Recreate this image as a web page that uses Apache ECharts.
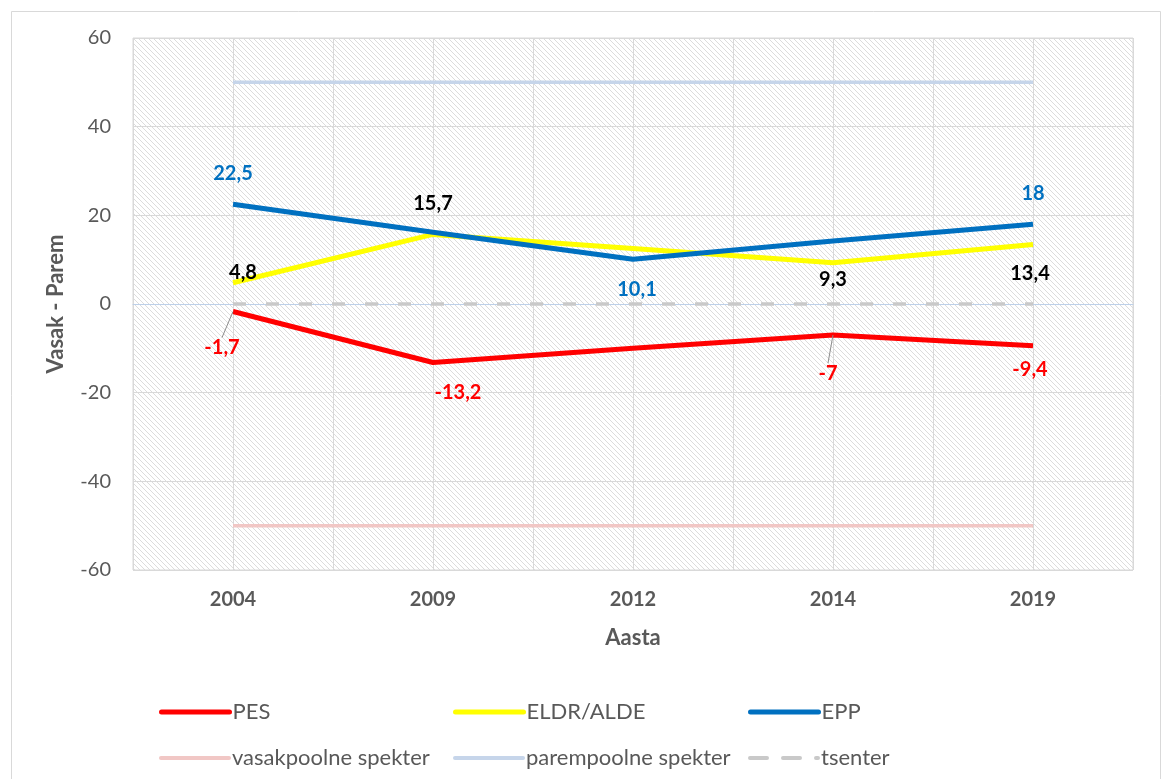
<!DOCTYPE html>
<html>
<head>
<meta charset="utf-8">
<script src="https://cdn.jsdelivr.net/npm/echarts@6/dist/echarts.min.js"></script>
<style>
  html, body { margin: 0; padding: 0; background: #fff; }
  #chart { width: 1165px; height: 779px; }
</style>
</head>
<body>
<div id="chart"></div>
<script>
// andmed
const years = ['2004', '2009', '2012', '2014', '2019'];
const yTicks = [-60, -40, -20, 0, 20, 40, 60];
const pes = [-1.7, -13.2, -10, -7, -9.4];
const eldr = [4.8, 15.7, 12.5, 9.3, 13.4];
const epp = [22.5, 16.2, 10.1, 14.2, 18];
const vasak = [-50, -50, -50, -50, -50];
const parem = [50, 50, 50, 50, 50];
const tsenter = [0, 0, 0, 0, 0];

// sildid: [näita, asend, dx, dy, juhtjoon]
const pesLabels = [[1, 'bottom', -11, 21, 1], [1, 'bottom', 25, 15, 0], [0], [1, 'bottom', -5, 23, 1], [1, 'bottom', -3, 9, 0]];
const eldrLabels = [[1, 'top', 10, 5, 0], [1, 'top', 0, -16, 0], [0], [1, 'bottom', 0, 2, 0], [1, 'bottom', -3, 14, 0]];
const eppLabels = [[1, 'top', 0, -16, 0], [0], [1, 'bottom', 4, 15, 0], [0], [1, 'top', 0, -16, 0]];

const FONT = 'Lato';
const GREY = '#595959';

// viirutatud taust
function makeHatch() {
    const c = document.createElement('canvas');
    c.width = 5; c.height = 5;
    const ctx = c.getContext('2d');
    ctx.fillStyle = '#ffffff';
    ctx.fillRect(0, 0, 5, 5);
    ctx.strokeStyle = '#dcdcdc';
    ctx.lineWidth = 1;
    for (let k = -1; k <= 1; k++) {
        ctx.beginPath();
        ctx.moveTo(k * 5, 0);
        ctx.lineTo(k * 5 + 5, 5);
        ctx.stroke();
    }
    return c;
}

const fmt = v => String(v).replace('.', ',');

function buildData(values, labels, color) {
    return values.map((v, i) => {
        const l = labels[i];
        if (!l[0]) return { value: v, label: { show: false } };
        return {
            value: v,
            label: { show: true, position: l[1], distance: 5, color: color },
            labelLine: { show: !!l[4] }
        };
    });
}

function makeLayout(labels) {
    return params => {
        const l = labels[params.dataIndex];
        if (!l || !l[0]) return {};
        return { dx: l[2], dy: l[3] };
    };
}

function mainSeries(name, values, labels, lineColor, labelColor) {
    return {
        name: name,
        type: 'line',
        data: buildData(values, labels, labelColor),
        symbol: 'circle',
        symbolSize: 0.1,
        showSymbol: true,
        z: 5,
        lineStyle: { color: lineColor, width: 5 },
        itemStyle: { color: lineColor },
        label: {
            show: true,
            formatter: p => fmt(p.value),
            fontFamily: FONT,
            fontSize: 20,
            fontWeight: 'bold'
        },
        labelLine: { show: false, lineStyle: { color: '#8c8c8c', width: 1 } },
        labelLayout: makeLayout(labels)
    };
}

function refSeries(name, values, color, type) {
    return {
        name: name,
        type: 'line',
        data: values,
        symbol: 'circle',
        symbolSize: 0.1,
        z: 3,
        silent: true,
        lineStyle: { color: color, width: 3.5, type: type || 'solid' },
        itemStyle: { color: color }
    };
}

function legendAt(name, left, top, width, dash) {
    return {
        data: [name],
        left: left,
        top: top,
        itemWidth: 68,
        itemHeight: 22,
        itemStyle: { opacity: 0 },
        lineStyle: { width: width, type: dash || 'inherit', cap: 'round' },
        textStyle: { fontFamily: FONT, fontSize: 22, color: GREY, padding: [0, 0, 0, -2] },
        selectedMode: false
    };
}

document.addEventListener('DOMContentLoaded', () => {
    const chart = echarts.init(document.getElementById('chart'), null, { renderer: 'canvas' });

    const option = {
        backgroundColor: '#ffffff',
        animation: false,
        textStyle: { fontFamily: FONT },
        graphic: [{
            type: 'rect',
            left: 9, top: 9,
            shape: { width: 1149, height: 800 },
            style: { fill: 'none', stroke: '#d9d9d9', lineWidth: 1 },
            silent: true
        }],
        grid: {
            left: 133, top: 38, right: 32, bottom: 209,
            show: true,
            borderColor: '#d9d9d9',
            borderWidth: 1,
            backgroundColor: { image: makeHatch(), repeat: 'repeat' }
        },
        legend: [
            legendAt('PES', 154, 696, 5),
            legendAt('ELDR/ALDE', 448, 696, 5),
            legendAt('EPP', 743, 696, 5),
            legendAt('vasakpoolne spekter', 154, 742, 4),
            legendAt('parempoolne spekter', 448, 742, 4),
            legendAt('tsenter', 743, 742, 4, [17, 16])
        ],
        xAxis: [{
            type: 'category',
            data: years,
            boundaryGap: true,
            axisLine: { show: false, onZero: false },
            axisTick: { show: false },
            splitLine: { show: false },
            axisLabel: {
                margin: 20,
                fontFamily: FONT,
                fontSize: 20,
                fontWeight: 'bold',
                color: GREY
            },
            name: 'Aasta',
            nameLocation: 'middle',
            nameGap: 57,
            nameTextStyle: { fontFamily: FONT, fontSize: 22, fontWeight: 'bold', color: GREY }
        }, {
            // abitelg: vertikaalsed ruudujooned ja nulljoon
            type: 'value',
            min: 0, max: 10, interval: 1,
            position: 'bottom',
            axisLine: { show: true, onZero: true, lineStyle: { color: '#bdd0e9', width: 1 } },
            axisTick: { show: false },
            axisLabel: { show: false },
            splitLine: { show: true, lineStyle: { color: '#d9d9d9', width: 1 } }
        }],
        yAxis: {
            type: 'value',
            min: yTicks[0],
            max: yTicks[yTicks.length - 1],
            interval: 20,
            axisLine: { show: false },
            axisTick: { show: false },
            splitLine: { show: true, lineStyle: { color: '#d9d9d9', width: 1 } },
            axisLabel: {
                margin: 22,
                fontFamily: FONT,
                fontSize: 20,
                color: GREY
            },
            name: 'Vasak - Parem',
            nameLocation: 'middle',
            nameGap: 66,
            nameTextStyle: { fontFamily: FONT, fontSize: 22, fontWeight: 'bold', color: GREY }
        },
        series: [
            refSeries('vasakpoolne spekter', vasak, '#f1c7c5'),
            refSeries('parempoolne spekter', parem, '#c6d5ea'),
            refSeries('tsenter', tsenter, '#c9c9c9', [13, 20]),
            mainSeries('PES', pes, pesLabels, '#ff0000', '#ff0000'),
            mainSeries('ELDR/ALDE', eldr, eldrLabels, '#ffff00', '#000000'),
            mainSeries('EPP', epp, eppLabels, '#0070c0', '#0070c0')
        ]
    };

    chart.setOption(option);
    window.addEventListener('resize', () => chart.resize());
});
</script>
</body>
</html>
